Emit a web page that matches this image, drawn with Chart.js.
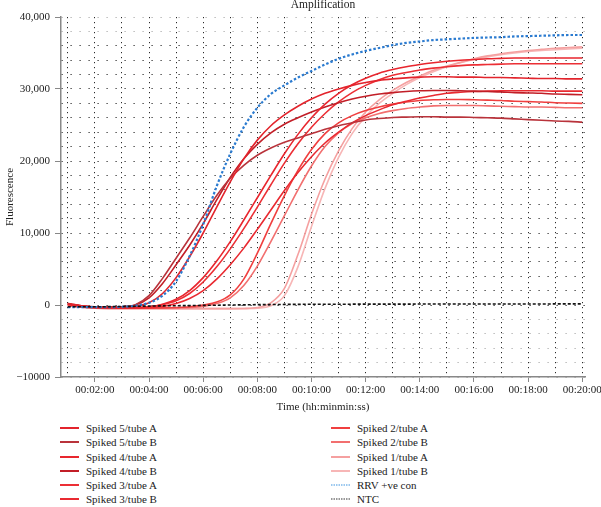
<!DOCTYPE html>
<html lang="en">
<head>
<meta charset="UTF-8">
<title>Amplification</title>
<script src="https://cdn.jsdelivr.net/npm/chart.js@4.4.0/dist/chart.umd.min.js"></script>
<style>
  body { margin: 0; background: #fff; font-family: "Liberation Serif", "DejaVu Serif", serif; }
  #wrap { position: relative; width: 601px; height: 507px; }
  #chartBox { position: absolute; left: 0; top: 0; width: 601px; height: 420px; }
  .legend { position: absolute; top: 421px; font-size: 11px; color: #222; }
  .row { position: relative; height: 14.3px; width: 200px; }
  .swatch { position: absolute; left: 0; top: 5px; width: 19px; height: 4px; display: block; }
  .lbl { position: absolute; left: 26px; top: 0; line-height: 14.3px; white-space: nowrap; }
</style>
</head>
<body>
<div id="wrap">
  <div id="chartBox"><canvas id="amp" width="601" height="420"></canvas></div>
  <div class="legend" id="legLeft" style="left:60px"></div>
  <div class="legend" id="legRight" style="left:331px"></div>
</div>
<script>
// time in minutes
const TIME = [1, 1.5, 2, 2.5, 3, 3.5, 4, 4.5, 5, 5.5, 6, 6.5, 7, 7.5, 8, 8.5, 9, 9.5, 10, 10.5,
  11, 11.5, 12, 12.5, 13, 13.5, 14, 14.5, 15, 15.5, 16, 16.5, 17, 17.5, 18, 18.5, 19, 19.5, 20];

const spiked5A = [200, -100, -300, -350, -350, -200, 300, 1600, 3800, 6700, 10000, 13600, 17100, 20300, 22900, 24900, 26400, 27600, 28600, 29400,
  30000, 30500, 30900, 31200, 31400, 31550, 31650, 31700, 31700, 31650, 31650, 31600, 31600, 31550, 31500, 31450, 31450, 31400, 31400];
const spiked5B = [200, -100, -250, -300, -250, 50, 1300, 3700, 6500, 9300, 12300, 15200, 17600, 19400, 20800, 21800, 22600, 23200, 23800, 24400,
  24900, 25300, 25700, 25900, 26050, 26100, 26150, 26150, 26100, 26100, 26050, 26000, 25950, 25850, 25750, 25650, 25550, 25500, 25400];
const spiked4A = [150, -150, -300, -350, -350, -350, -250, 100, 800, 2000, 3800, 6100, 8800, 11800, 14900, 18000, 21000, 23700, 26000, 27900,
  29400, 30600, 31500, 32200, 32700, 33100, 33400, 33650, 33850, 34000, 34100, 34200, 34250, 34300, 34300, 34300, 34300, 34300, 34300];
const spiked4B = [150, -150, -300, -300, -250, 0, 1000, 3000, 5600, 8300, 11300, 14600, 17700, 20300, 22300, 23900, 25100, 26000, 26800, 27500,
  28100, 28600, 29000, 29300, 29500, 29650, 29750, 29800, 29800, 29750, 29700, 29650, 29600, 29500, 29450, 29400, 29300, 29250, 29200];
const spiked3A = [150, -150, -300, -350, -350, -350, -300, 50, 600, 1600, 3200, 5300, 7800, 10600, 13600, 16700, 19700, 22400, 24700, 26600,
  28200, 29500, 30500, 31300, 31900, 32300, 32650, 32900, 33100, 33250, 33350, 33400, 33450, 33500, 33500, 33500, 33500, 33500, 33500];
const spiked3B = [100, -200, -350, -400, -400, -400, -350, -200, 200, 900, 2000, 3600, 5600, 7900, 10500, 13200, 15900, 18400, 20600, 22500,
  24000, 25300, 26300, 27100, 27800, 28300, 28750, 29100, 29400, 29550, 29650, 29700, 29750, 29750, 29750, 29750, 29700, 29700, 29700];
const spiked2A = [0, -250, -400, -450, -450, -450, -450, -400, -350, -250, 0, 400, 1400, 3600, 7200, 11300, 15200, 18700, 21600, 23800,
  25300, 26300, 27000, 27500, 27900, 28200, 28400, 28500, 28550, 28550, 28500, 28450, 28400, 28300, 28250, 28200, 28100, 28050, 28000];
const spiked2B = [0, -250, -400, -450, -450, -450, -450, -450, -400, -350, -200, 200, 1000, 2700, 5400, 8800, 12400, 16000, 19300, 22000,
  23900, 25200, 26000, 26600, 27000, 27300, 27500, 27650, 27700, 27700, 27700, 27650, 27600, 27550, 27500, 27500, 27450, 27400, 27400];
const spiked1A = [-100, -300, -450, -500, -500, -500, -500, -500, -500, -500, -500, -500, -500, -480, -350, 300, 2300, 7000, 12600, 17500,
  21400, 24500, 26800, 28500, 29800, 30900, 31800, 32600, 33200, 33700, 34200, 34600, 34900, 35150, 35350, 35500, 35650, 35750, 35850];
const spiked1B = [-100, -300, -450, -500, -500, -500, -500, -500, -500, -500, -500, -500, -500, -500, -450, -100, 1300, 5300, 10900, 16200,
  20500, 23800, 26200, 28000, 29400, 30600, 31600, 32400, 33100, 33650, 34100, 34450, 34750, 35000, 35200, 35350, 35450, 35550, 35650];
const rrvPos = [-300, -300, -300, -300, -250, -100, 300, 1300, 3300, 6800, 11200, 16500, 21000, 24700, 27400, 29300, 30500, 31600, 32500, 33400,
  34200, 34800, 35300, 35700, 36100, 36400, 36600, 36800, 36900, 37000, 37100, 37150, 37200, 37300, 37350, 37400, 37450, 37500, 37500];
const ntc = [-250, -250, -250, -230, -200, -180, -150, -120, -100, -80, -50, -30, 0, 20, 50, 60, 80, 90, 100, 105,
  110, 115, 120, 120, 125, 125, 130, 130, 130, 135, 135, 140, 140, 140, 145, 145, 150, 150, 150];

const Y_LABELS = { '40000': '40,000', '30000': '30,000', '20000': '20,000', '10000': '10,000', '0': '0', '-10000': '\u221210000' };

const FONT = '"Liberation Serif", "DejaVu Serif", serif';

// legend order (two columns), drawing order handled separately
const series = [
  { name: 'Spiked 5/tube A', data: spiked5A, color: '#e3242c' },
  { name: 'Spiked 5/tube B', data: spiked5B, color: '#b9333b' },
  { name: 'Spiked 4/tube A', data: spiked4A, color: '#e8262e' },
  { name: 'Spiked 4/tube B', data: spiked4B, color: '#c21e27' },
  { name: 'Spiked 3/tube A', data: spiked3A, color: '#ec2f35' },
  { name: 'Spiked 3/tube B', data: spiked3B, color: '#e92a31' },
  { name: 'Spiked 2/tube A', data: spiked2A, color: '#f03f3f' },
  { name: 'Spiked 2/tube B', data: spiked2B, color: '#f26f6f' },
  { name: 'Spiked 1/tube A', data: spiked1A, color: '#f5a0a0' },
  { name: 'Spiked 1/tube B', data: spiked1B, color: '#f7b6b6' },
  { name: 'RRV +ve con', data: rrvPos, color: '#2b7bd0', legendColor: '#3d94e0', dash: [2.5, 2], width: 2.2 },
  { name: 'NTC', data: ntc, color: '#111', legendColor: '#333', dash: [3, 2], width: 1.6 }
];

function toPoints(arr) {
  return arr.map((v, i) => ({ x: TIME[i], y: v }));
}

function fmtTime(v) {
  const m = String(v).padStart(2, '0');
  return '00:' + m + ':00';
}

// datasets: NTC and RRV first so they sit on top
const drawOrder = [11, 10, 0, 1, 2, 3, 4, 5, 6, 7, 8, 9];
const datasets = drawOrder.map(i => {
  const s = series[i];
  return {
    label: s.name,
    data: toPoints(s.data),
    borderColor: s.color,
    borderWidth: s.width || 1.6,
    borderDash: s.dash || [],
    pointRadius: 0,
    fill: false,
    cubicInterpolationMode: 'monotone'
  };
});

const titlePlugin = {
  id: 'topTitle',
  afterDraw(chart) {
    const { ctx, chartArea } = chart;
    ctx.save();
    ctx.font = '11.5px ' + FONT;
    ctx.fillStyle = '#222';
    ctx.textAlign = 'center';
    ctx.textBaseline = 'alphabetic';
    ctx.fillText('Amplification', (chartArea.left + chartArea.right) / 2, 8);
    ctx.restore();
  }
};

new Chart(document.getElementById('amp'), {
  type: 'line',
  data: { datasets },
  plugins: [titlePlugin],
  options: {
    responsive: false,
    animation: false,
    devicePixelRatio: 1,
    layout: { padding: { top: 17, right: 16, left: 0, bottom: 0 } },
    plugins: { legend: { display: false }, title: { display: false }, tooltip: { enabled: false } },
    scales: {
      x: {
        type: 'linear',
        min: 0.75,
        max: 20.1,
        afterFit: s => { s.height = 43; s.paddingLeft = 0; s.paddingRight = 0; },
        ticks: {
          stepSize: 1,
          includeBounds: false,
          autoSkip: false,
          maxRotation: 0,
          padding: 2,
          color: '#222',
          font: { family: FONT, size: 11 },
          callback: v => (v % 2 === 0 ? fmtTime(v) : '')
        },
        grid: {
          color: '#2a2a2a',
          lineWidth: 1,
          tickLength: 5,
          tickColor: c => (c.tick && c.tick.value % 2 === 0 ? '#888' : 'rgba(0,0,0,0)')
        },
        border: { display: true, color: '#888', width: 1.5, dash: [1.2, 3.8] },
        title: { display: true, text: 'Time (hh:minmin:ss)', color: '#222', font: { family: FONT, size: 11 }, padding: { top: 4, bottom: 6.4 } }
      },
      y: {
        min: -10000,
        max: 40000,
        afterFit: s => { s.width = 61; s.paddingTop = 0; s.paddingBottom = 0; },
        ticks: {
          stepSize: 2000,
          autoSkip: false,
          padding: 5,
          color: '#222',
          font: { family: FONT, size: 11 },
          callback: v => (Y_LABELS[String(v)] !== undefined ? Y_LABELS[String(v)] : '')
        },
        grid: {
          color: c => {
            const v = c.tick ? c.tick.value : 0;
            return (v >= 38000 || v < 0) ? '#aaaaaa' : '#2a2a2a';
          },
          lineWidth: 1,
          tickLength: 6,
          tickColor: c => (c.tick && c.tick.value % 10000 === 0 ? '#888' : 'rgba(0,0,0,0)')
        },
        border: { display: true, color: '#888', width: 1.5, dash: [1.2, 7.8] },
        title: { display: true, text: 'Fluorescence', color: '#222', font: { family: FONT, size: 11 } }
      }
    }
  }
});

// legend, two columns; small svg line for each swatch
const SVGNS = 'http://www.w3.org/2000/svg';
function addRow(box, s) {
  const row = document.createElement('div');
  row.className = 'row';
  const sw = document.createElementNS(SVGNS, 'svg');
  sw.setAttribute('class', 'swatch');
  sw.setAttribute('width', '19');
  sw.setAttribute('height', '4');
  const ln = document.createElementNS(SVGNS, 'line');
  ln.setAttribute('x1', '0');
  ln.setAttribute('x2', '19');
  ln.setAttribute('y1', '2');
  ln.setAttribute('y2', '2');
  ln.setAttribute('stroke', s.legendColor || s.color);
  if (s.dash) {
    ln.setAttribute('stroke-width', '1.2');
    ln.setAttribute('stroke-dasharray', '1.5 1');
  } else {
    ln.setAttribute('stroke-width', '2');
  }
  sw.appendChild(ln);
  const lbl = document.createElement('span');
  lbl.className = 'lbl';
  lbl.textContent = s.name;
  row.appendChild(sw);
  row.appendChild(lbl);
  box.appendChild(row);
}
const left = document.getElementById('legLeft');
const right = document.getElementById('legRight');
series.forEach((s, i) => addRow(i < 6 ? left : right, s));
</script>
</body>
</html>
